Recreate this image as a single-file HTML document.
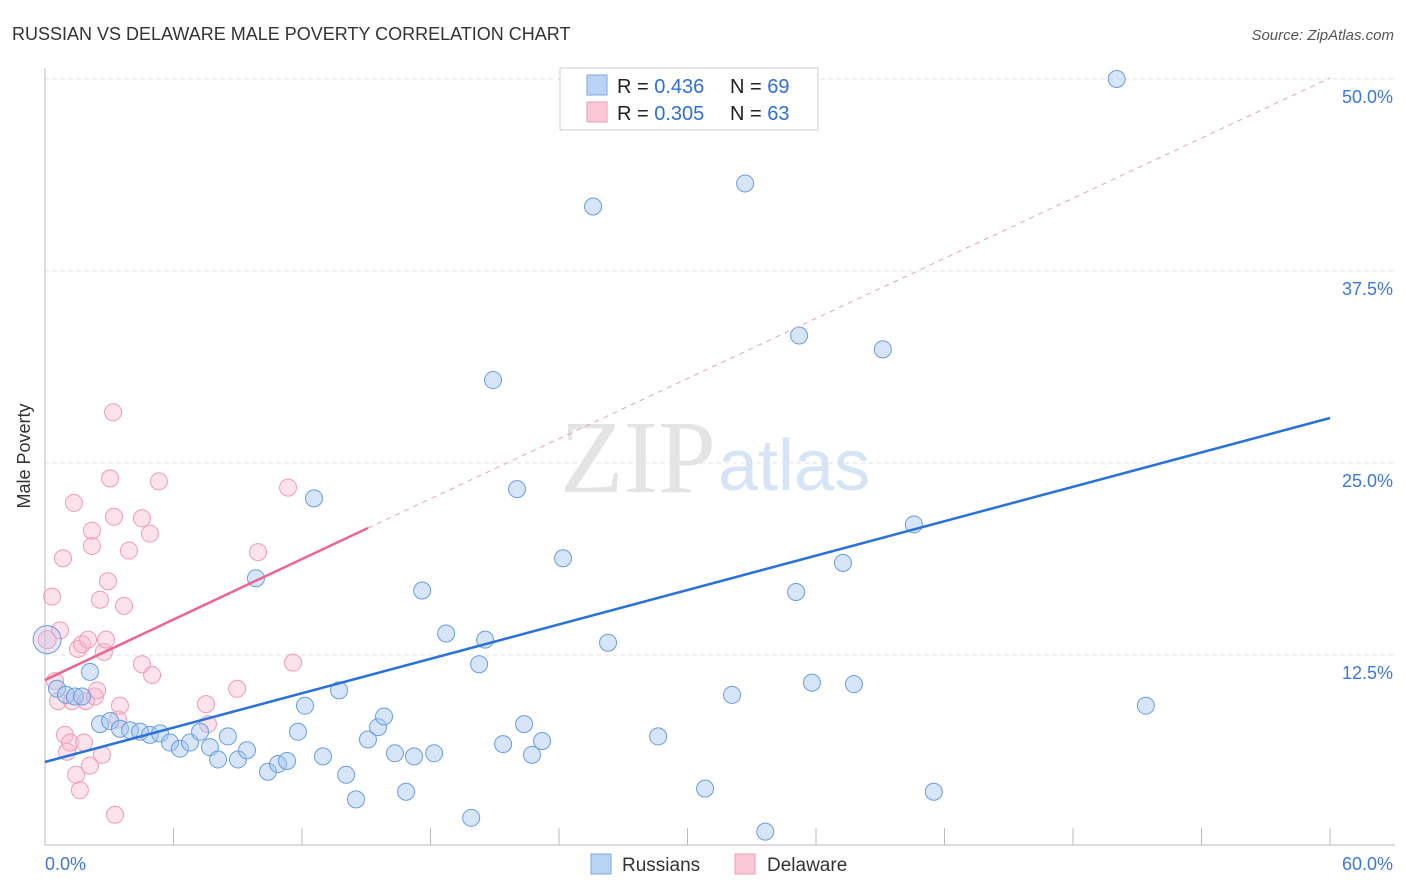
<!DOCTYPE html>
<html><head><meta charset="utf-8"><style>
body{margin:0;background:#fff;font-family:"Liberation Sans",sans-serif;}
svg{display:block}
</style></head><body>
<svg id="c" width="1406" height="892" xmlns="http://www.w3.org/2000/svg">
<text x="12" y="40" font-size="18" fill="#333">RUSSIAN VS DELAWARE MALE POVERTY CORRELATION CHART</text>
<text x="1394" y="40" font-size="15" fill="#555" font-style="italic" text-anchor="end">Source: ZipAtlas.com</text>
<text x="30" y="456" font-size="18" fill="#333" transform="rotate(-90 30 456)" text-anchor="middle">Male Poverty</text>
<g id="grid"></g>
<text x="716" y="492" font-size="104" fill="#e4e4e4" font-family="Liberation Serif" text-anchor="end">ZIP</text>
<text x="718" y="490" font-size="72" fill="#d6e4f5">atlas</text>
<g id="pts"></g>
<g id="lines"></g>
<g>
<rect x="560" y="68" width="258" height="62" fill="#fff" stroke="#ccc"/>
<rect x="587" y="75" width="20" height="20" fill="#b9d3f5" stroke="#7ea9e4"/>
<rect x="587" y="102" width="20" height="20" fill="#fac8d7" stroke="#ee9ab4"/>
<text x="617" y="93" font-size="20" fill="#222">R = <tspan fill="#2f6fd6">0.436</tspan></text>
<text x="730" y="93" font-size="20" fill="#222">N = <tspan fill="#2f6fd6">69</tspan></text>
<text x="617" y="120" font-size="20" fill="#222">R = <tspan fill="#2f6fd6">0.305</tspan></text>
<text x="730" y="120" font-size="20" fill="#222">N = <tspan fill="#2f6fd6">63</tspan></text>
</g>
<g>
<rect x="591" y="854" width="20" height="20" fill="#b9d3f5" stroke="#7ea9e4"/>
<text x="622" y="871" font-size="19" fill="#333">Russians</text>
<rect x="735" y="854" width="20" height="20" fill="#fac8d7" stroke="#ee9ab4"/>
<text x="767" y="871" font-size="19" fill="#333">Delaware</text>
</g>
</svg>
<script>
const yTicks=[12.5,25,37.5,50];
const yTickLabels=["12.5%","25.0%","37.5%","50.0%"];
const xTickLabels=["0.0%","60.0%"];
const rusX=[0.1,0.56,0.98,1.4,1.73,2.1,2.57,3.04,3.5,3.97,4.44,4.9,5.37,5.84,6.3,6.77,7.24,7.7,8.08,8.54,9.01,9.43,9.85,10.41,10.88,11.3,11.81,12.14,12.56,12.98,13.73,14.06,14.52,15.08,15.55,15.83,16.34,16.86,17.23,17.61,18.17,18.73,19.9,20.27,20.55,20.92,21.39,22.04,22.37,22.74,23.21,24.19,25.59,26.29,28.63,30.82,32.08,32.69,33.63,35.07,35.21,35.81,37.26,37.77,39.12,40.57,41.5,50.04,51.4,26.71];
const rusY=[13.5,10.3,9.9,9.8,9.8,11.4,8.0,8.2,7.7,7.6,7.5,7.3,7.4,6.8,6.4,6.8,7.5,6.5,5.7,7.2,5.7,6.3,17.5,4.9,5.4,5.6,7.5,9.2,22.7,5.9,10.2,4.7,3.1,7.0,7.8,8.5,6.1,3.6,5.9,16.7,6.1,13.9,1.9,11.9,13.5,30.4,6.7,23.3,8.0,6.0,6.9,18.8,41.7,13.3,7.2,3.8,9.9,43.2,1.0,16.6,33.3,10.7,18.5,10.6,32.4,21.0,3.6,50.0,9.2,50.0];
const delX=[0.1,0.33,0.47,0.61,0.7,0.84,0.93,1.03,1.17,1.26,1.35,1.45,1.54,1.63,1.73,1.82,1.91,2.01,2.1,2.19,2.19,2.33,2.43,2.57,2.66,2.75,2.85,2.94,3.04,3.18,3.22,3.27,3.41,3.5,3.69,3.92,4.53,4.53,4.9,5.0,5.32,7.52,7.61,8.97,9.95,11.35,11.58];
const delY=[13.5,16.3,10.8,9.5,14.1,18.8,7.3,6.2,6.8,9.5,22.4,4.7,12.9,3.7,13.2,6.8,9.5,13.5,5.3,19.6,20.6,9.8,10.2,16.1,6.0,12.7,13.5,17.3,24.0,28.3,21.5,2.1,8.3,9.2,15.7,19.3,21.4,11.9,20.4,11.2,23.8,9.3,8.0,10.3,19.2,23.4,12.0];
const svg=document.getElementById('c');
const NS='http://www.w3.org/2000/svg';
const X0=45,X1=1330,YB=847;
function sx(v){return X0+(v/60)*(X1-X0);}
function sy(v){return YB-v/12.5*192;}
function mk(t,a,parent){const e=document.createElementNS(NS,t);for(const k in a)e.setAttribute(k,a[k]);parent.appendChild(e);return e;}
const grid=document.getElementById('grid');
yTicks.forEach((t,i)=>{
  const l=mk('line',{x1:X0,x2:1395,y1:sy(t),y2:sy(t),stroke:'#e2e2e2','stroke-dasharray':'4 4'},grid);
  
  
  const tx=mk('text',{x:1393,y:sy(t)+24,'font-size':18,fill:'#3b78d8','text-anchor':'end'},grid);
  tx.textContent=yTickLabels[i];
  
  
});
const ax=mk('line',{x1:X0,x2:X0,y1:68,y2:845,stroke:'#bbb'},grid);


const bx=mk('line',{x1:X0,x2:1395,y1:845,y2:845,stroke:'#bbb'},grid);


for(let i=0;i<=10;i++){const x=X0+i*(X1-X0)/10;const t=mk('line',{x1:x,x2:x,y1:828,y2:845,stroke:'#bbb'},grid);

}
[[0,'start',45],[60,'end',1393]].forEach((d,i)=>{const t=mk('text',{x:d[2],y:870,'font-size':18,fill:'#3b78d8','text-anchor':d[1]},grid);t.textContent=xTickLabels[i];

});
const pts=document.getElementById('pts');
delX.forEach((x,i)=>{const c=mk('circle',{cx:sx(x),cy:sy(delY[i]),r:i==0?9:8.5,fill:'rgba(248,185,205,0.4)',stroke:'#f09ab5','stroke-width':1},pts);

});
rusX.forEach((x,i)=>{const c=mk('circle',{cx:sx(x),cy:sy(rusY[i]),r:i==0?14:8.5,fill:i==0?'rgba(200,190,230,0.4)':'rgba(165,198,240,0.45)',stroke:'#6a9ce0','stroke-width':1},pts);

});
const lines=document.getElementById('lines');
const bl=mk('line',{x1:sx(0),y1:762,x2:sx(60),y2:418,stroke:'#2a72d8','stroke-width':2.5},lines);


const pl=mk('line',{x1:sx(0),y1:680,x2:368,y2:528,stroke:'#e86690','stroke-width':2.5},lines);


const pd=mk('line',{x1:368,y1:528,x2:sx(60),y2:78,stroke:'#e8a0b8','stroke-width':1,'stroke-dasharray':'5 5'},lines);


</script>
</body></html>
